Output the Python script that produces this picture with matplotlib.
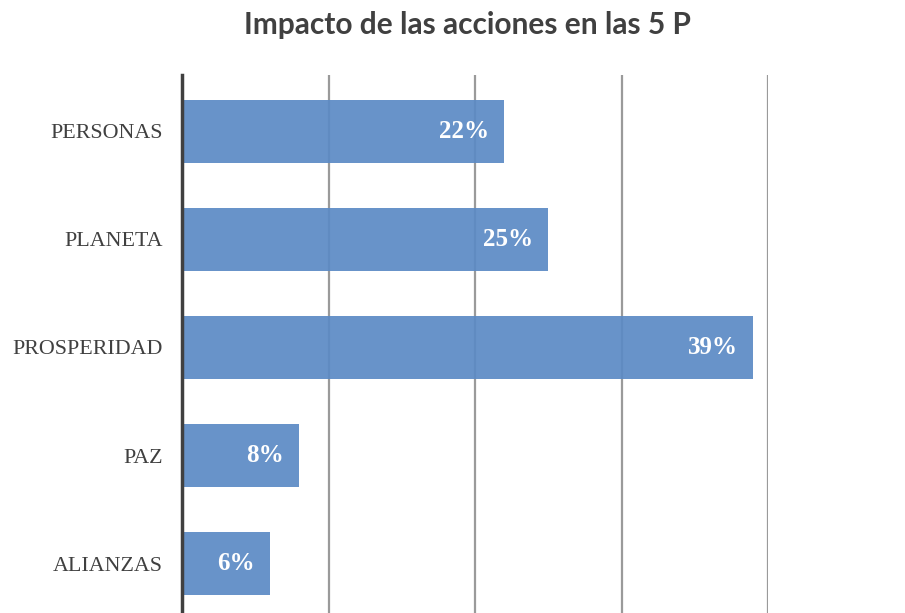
import matplotlib.pyplot as plt
from matplotlib.ticker import MultipleLocator

# data
categories = ['PERSONAS', 'PLANETA', 'PROSPERIDAD', 'PAZ', 'ALIANZAS']
values = [0.22, 0.25, 0.39, 0.08, 0.06]
labels = ['22%', '25%', '39%', '8%', '6%']

fig = plt.figure(figsize=(9.05, 6.13), dpi=100)
ax = fig.add_axes([182 / 905, 1 - 620 / 613, 586 / 905, 545 / 613])

ypos = list(range(len(categories)))
bars = ax.barh(ypos, values, height=0.58, color='#5B8AC5', alpha=0.92, zorder=3)

ax.set_xlim(0, 0.40)
ax.set_ylim(4.52, -0.52)
ax.xaxis.set_major_locator(MultipleLocator(0.10))
ax.grid(axis='x', color='#9A9A9A', linewidth=1.6, zorder=0)
ax.tick_params(axis='x', length=0, labelbottom=False)
ax.tick_params(axis='y', length=0, pad=14)
ax.set_yticks(ypos)
ax.set_yticklabels(categories, fontfamily='Liberation Serif', fontsize=15.8, color='#404040')

for s in ['top', 'right', 'bottom']:
    ax.spines[s].set_visible(False)
ax.spines['left'].set_color('#404040')
ax.spines['left'].set_linewidth(2.5)
ax.spines['left'].set_zorder(4)

for b, lab in zip(bars, labels):
    ax.annotate(lab, (b.get_width(), b.get_y() + b.get_height() / 2),
                xytext=(-15, 0), textcoords='offset pixels',
                ha='right', va='center', color='white', fontweight='bold',
                fontfamily='Liberation Serif', fontsize=18, zorder=5)

fig.text(467 / 905, 1 - 25 / 613, 'Impacto de las acciones en las 5 P',
         ha='center', va='center', fontfamily='Lato', fontweight='bold',
         fontsize=21.5, color='#404040')

fig.savefig('out.png', dpi=100)
